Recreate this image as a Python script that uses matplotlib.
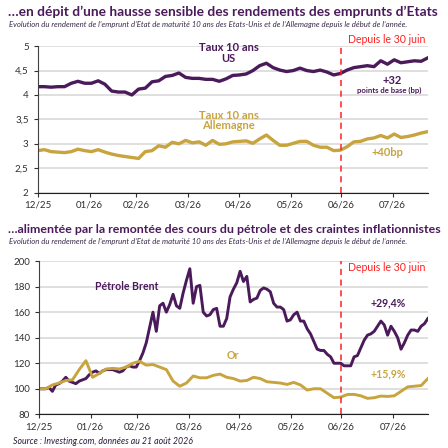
import numpy as np
import pandas as pd
import matplotlib
matplotlib.use('Agg')
import matplotlib.pyplot as plt

plt.rcParams['font.family'] = ['Lato', 'DejaVu Sans']

PURPLE = '#4a1a5a'
GOLD = '#c8a43f'
RED = '#ff2020'
GRID = '#d9d9d9'

start, end = '2025-12-31', '2026-08-21'
cut_date = pd.Timestamp('2026-06-30')

tick_dates = pd.to_datetime(['2025-12-31', '2026-01-31', '2026-02-28', '2026-03-31',
                             '2026-04-30', '2026-05-31', '2026-06-30', '2026-07-31'])
tick_labels = ['12/25', '01/26', '02/26', '03/26', '04/26', '05/26', '06/26', '07/26']

# taux 10 ans (%), un point tous les ~4 jours
us_10y = [4.17, 4.17, 4.16, 4.17, 4.17, 4.24, 4.28, 4.24, 4.24, 4.29,
          4.22, 4.08, 4.06, 4.06, 4.00, 4.12, 4.14, 4.27, 4.29, 4.38,
          4.40, 4.45, 4.36, 4.34, 4.34, 4.32, 4.32, 4.28, 4.33, 4.40,
          4.41, 4.43, 4.50, 4.60, 4.65, 4.56, 4.51, 4.48, 4.50, 4.55,
          4.50, 4.48, 4.51, 4.47, 4.41, 4.44, 4.51, 4.56, 4.58, 4.60,
          4.58, 4.70, 4.63, 4.72, 4.66, 4.68, 4.70, 4.69, 4.76]
de_10y = [2.86, 2.88, 2.84, 2.83, 2.82, 2.84, 2.89, 2.86, 2.84, 2.88,
          2.83, 2.79, 2.76, 2.74, 2.72, 2.70, 2.84, 2.86, 2.96, 2.93,
          3.03, 3.00, 3.07, 3.02, 3.04, 2.97, 3.07, 2.99, 3.00, 3.04,
          3.05, 3.06, 3.01, 3.10, 3.18, 3.07, 2.97, 2.97, 3.01, 3.05,
          3.05, 2.97, 2.93, 2.93, 2.86, 2.87, 2.94, 3.04, 3.05, 3.10,
          3.12, 3.17, 3.12, 3.20, 3.13, 3.15, 3.18, 3.22, 3.25]

# base 100, petrole tous les ~2 jours, or tous les ~4 jours
brent = [100, 100, 100, 101, 98, 103, 104, 106, 109, 106,
         105, 104, 106, 107, 108, 111, 113, 114, 112, 114,
         115, 115, 115, 114, 113, 114, 117, 118, 117, 117,
         122, 128, 136, 148, 160, 145, 165, 167, 160, 166,
         174, 165, 163, 175, 185, 194, 167, 180, 181, 160,
         157, 158, 162, 163, 149, 149, 155, 172, 178, 183,
         192, 184, 188, 168, 170, 171, 177, 179, 178, 176,
         167, 164, 164, 162, 153, 154, 158, 160, 153, 153,
         147, 143, 137, 131, 130, 130, 127, 125, 120, 120,
         120, 118, 118, 118, 125, 126, 132, 138, 142, 143,
         145, 149, 153, 150, 142, 149, 145, 140, 131, 136,
         142, 146, 146, 145, 149, 151, 155]
gold = [100, 100, 103, 104.5, 106.5, 107, 115, 122, 109, 112,
        115.5, 116, 115.5, 117, 120, 121.5, 118.5, 119, 117, 115,
        106, 102, 104.5, 110, 108.6, 108.6, 110.5, 111.5, 109, 108,
        106, 106.5, 109, 108, 105.5, 105, 104.5, 103.4, 105, 103,
        99, 100, 100, 96.5, 93, 93.5, 95.5, 95.6, 94.5, 92.5,
        93, 94.3, 94, 94.5, 98, 101.5, 102, 102.5, 108]

rate_ticks = [2, 2.5, 3, 3.5, 4, 4.5, 5]
rate_labels = ['2', '2,5', '3', '3,5', '4', '4,5', '5']
index_ticks = [80, 100, 120, 140, 160, 180, 200]

subtitle = ("Evolution du rendement de l’emprunt d’Etat de maturité 10 ans des Etats-Unis "
            "et de l’Allemagne depuis le début de l’année.")


def style_axis(ax, yticks, ylabels):
    ax.set_xlim(pd.Timestamp(start), pd.Timestamp(end))
    ax.set_ylim(yticks[0], yticks[-1])
    ax.set_yticks(yticks)
    ax.set_yticklabels(ylabels)
    ax.set_xticks(tick_dates)
    ax.set_xticklabels(tick_labels)
    ax.grid(True, axis='y', color=GRID, lw=1.2)
    ax.set_axisbelow(True)
    for s in ['top', 'right']:
        ax.spines[s].set_visible(False)
    ax.spines['left'].set_color('#404040')
    ax.spines['bottom'].set_color('#202020')
    ax.tick_params(axis='both', labelsize=7, colors='#303030', length=3, width=0.8)
    ax.tick_params(axis='x', pad=3)
    ax.axvline(cut_date, color=RED, ls=(0, (4, 3)), lw=1.1, clip_on=False)


fig = plt.figure(figsize=(4.48, 4.48), dpi=100)

fig.text(0.018, 0.973, "…en dépit d’une hausse sensible des rendements des emprunts d’Etats",
         fontsize=9.9, fontweight='bold', color=PURPLE, va='center')
fig.text(0.02, 0.945, subtitle, fontsize=5.55, style='italic', color='#3a2a4a', va='center')

ax1 = fig.add_axes([0.084, 0.570, 0.871, 0.327])
d_rates = pd.date_range(start, end, periods=len(us_10y))
ax1.plot(d_rates, us_10y, color=PURPLE, lw=2.4)
ax1.plot(d_rates, de_10y, color=GOLD, lw=2.4)
style_axis(ax1, rate_ticks, rate_labels)

ax1.text(0.49, 0.952, 'Taux 10 ans\nUS', transform=ax1.transAxes, ha='center', va='center',
         fontsize=8, fontweight='bold', color=PURPLE, linespacing=0.95)
ax1.text(0.49, 0.492, 'Taux 10 ans\nAllemagne', transform=ax1.transAxes, ha='center', va='center',
         fontsize=8, fontweight='bold', color=GOLD, linespacing=0.95)
ax1.text(0.908, 0.768, '+32', transform=ax1.transAxes, ha='center', va='center',
         fontsize=8, fontweight='bold', color=PURPLE)
ax1.text(0.900, 0.70, 'points de base (bp)', transform=ax1.transAxes, ha='center', va='center',
         fontsize=5.6, fontweight='bold', color=PURPLE)
ax1.text(0.897, 0.273, '+40bp', transform=ax1.transAxes, ha='center', va='center',
         fontsize=8, fontweight='bold', color=GOLD)
ax1.text(0.795, 1.046, 'Depuis le 30 juin', transform=ax1.transAxes, ha='left', va='center',
         fontsize=7.6, color=RED)

fig.text(0.018, 0.487, "…alimentée par la remontée des cours du pétrole et des craintes inflationnistes",
         fontsize=8.9, fontweight='bold', color=PURPLE, va='center')
fig.text(0.02, 0.460, subtitle, fontsize=5.55, style='italic', color='#3a2a4a', va='center')

ax2 = fig.add_axes([0.087, 0.0752, 0.868, 0.342])
d_brent = pd.date_range(start, end, periods=len(brent))
d_gold = pd.date_range(start, end, periods=len(gold))
ax2.plot(d_brent, brent, color=PURPLE, lw=2.1)
ax2.plot(d_gold, gold, color=GOLD, lw=2.1)
style_axis(ax2, index_ticks, [str(t) for t in index_ticks])

ax2.text(0.226, 0.832, 'Pétrole Brent', transform=ax2.transAxes, ha='center', va='center',
         fontsize=7.6, fontweight='bold', color=PURPLE)
ax2.text(0.897, 0.728, '+29,4%', transform=ax2.transAxes, ha='center', va='center',
         fontsize=7.6, fontweight='bold', color=PURPLE)
ax2.text(0.499, 0.387, 'Or', transform=ax2.transAxes, ha='center', va='center',
         fontsize=7.6, fontweight='bold', color=GOLD)
ax2.text(0.897, 0.263, '+15,9%', transform=ax2.transAxes, ha='center', va='center',
         fontsize=7.6, fontweight='bold', color=GOLD)
ax2.text(0.794, 0.956, 'Depuis le 30 juin', transform=ax2.transAxes, ha='left', va='center',
         fontsize=7.6, color=RED)

fig.text(0.028, 0.0156, 'Source : Investing.com, données au 21 août 2026',
         fontsize=6.3, style='italic', color='#2a1a3a', va='center')

fig.savefig('out.png', dpi=100)
